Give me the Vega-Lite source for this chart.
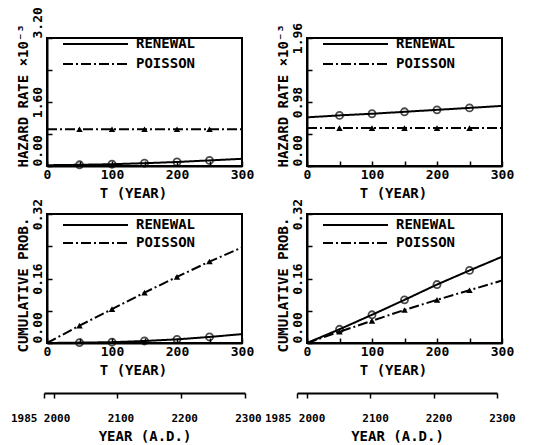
{
  "$schema": "https://vega.github.io/schema/vega-lite/v6.json",
  "background": "white",
  "padding": {"left": 10, "top": 5, "right": 5, "bottom": 2},
  "bounds": "flush",
  "columns": 2,
  "spacing": {"row": 48, "column": 65},
  "resolve": {"scale": {"strokeDash": "independent"}, "legend": {"strokeDash": "independent"}},
  "config": {
    "view": {"stroke": "black", "strokeWidth": 2},
    "axis": {
      "grid": false,
      "domainColor": "black", "domainWidth": 2,
      "tickColor": "black", "tickWidth": 1.5,
      "labelFont": "DejaVu Sans Mono", "labelFontWeight": "bold", "labelFontSize": 13, "labelColor": "black",
      "titleFont": "DejaVu Sans Mono", "titleFontWeight": "bold", "titleFontSize": 14, "titleColor": "black",
      "labelOverlap": false, "labelFlush": false
    },
    "legend": {
      "symbolType": "stroke", "symbolSize": 4225, "symbolStrokeWidth": 2, "symbolStrokeColor": "black",
      "labelFont": "DejaVu Sans Mono", "labelFontWeight": "bold", "labelFontSize": 14, "labelColor": "black",
      "rowPadding": 0, "labelOffset": 7, "padding": 0
    }
  },
  "datasets": {
    "tl": [
      {"s": "RENEWAL", "t": 0, "v": 0.02}, {"s": "RENEWAL", "t": 50, "v": 0.03}, {"s": "RENEWAL", "t": 100, "v": 0.045},
      {"s": "RENEWAL", "t": 150, "v": 0.07}, {"s": "RENEWAL", "t": 200, "v": 0.1}, {"s": "RENEWAL", "t": 250, "v": 0.14},
      {"s": "RENEWAL", "t": 300, "v": 0.18},
      {"s": "POISSON", "t": 0, "v": 0.92}, {"s": "POISSON", "t": 50, "v": 0.92}, {"s": "POISSON", "t": 100, "v": 0.92},
      {"s": "POISSON", "t": 150, "v": 0.92}, {"s": "POISSON", "t": 200, "v": 0.92}, {"s": "POISSON", "t": 250, "v": 0.92},
      {"s": "POISSON", "t": 300, "v": 0.92}
    ],
    "tr": [
      {"s": "RENEWAL", "t": 0, "v": 0.745}, {"s": "RENEWAL", "t": 50, "v": 0.775}, {"s": "RENEWAL", "t": 100, "v": 0.8},
      {"s": "RENEWAL", "t": 150, "v": 0.83}, {"s": "RENEWAL", "t": 200, "v": 0.86}, {"s": "RENEWAL", "t": 250, "v": 0.89},
      {"s": "RENEWAL", "t": 300, "v": 0.92},
      {"s": "POISSON", "t": 0, "v": 0.58}, {"s": "POISSON", "t": 50, "v": 0.58}, {"s": "POISSON", "t": 100, "v": 0.58},
      {"s": "POISSON", "t": 150, "v": 0.58}, {"s": "POISSON", "t": 200, "v": 0.58}, {"s": "POISSON", "t": 250, "v": 0.58},
      {"s": "POISSON", "t": 300, "v": 0.58}
    ],
    "bl": [
      {"s": "RENEWAL", "t": 0, "v": 0}, {"s": "RENEWAL", "t": 50, "v": 0.001}, {"s": "RENEWAL", "t": 100, "v": 0.002},
      {"s": "RENEWAL", "t": 150, "v": 0.005}, {"s": "RENEWAL", "t": 200, "v": 0.009}, {"s": "RENEWAL", "t": 250, "v": 0.015},
      {"s": "RENEWAL", "t": 300, "v": 0.022},
      {"s": "POISSON", "t": 0, "v": 0}, {"s": "POISSON", "t": 50, "v": 0.043}, {"s": "POISSON", "t": 100, "v": 0.084},
      {"s": "POISSON", "t": 150, "v": 0.125}, {"s": "POISSON", "t": 200, "v": 0.164}, {"s": "POISSON", "t": 250, "v": 0.202},
      {"s": "POISSON", "t": 300, "v": 0.237}
    ],
    "br": [
      {"s": "RENEWAL", "t": 0, "v": 0}, {"s": "RENEWAL", "t": 50, "v": 0.034}, {"s": "RENEWAL", "t": 100, "v": 0.07},
      {"s": "RENEWAL", "t": 150, "v": 0.107}, {"s": "RENEWAL", "t": 200, "v": 0.145}, {"s": "RENEWAL", "t": 250, "v": 0.18},
      {"s": "RENEWAL", "t": 300, "v": 0.214},
      {"s": "POISSON", "t": 0, "v": 0}, {"s": "POISSON", "t": 50, "v": 0.028}, {"s": "POISSON", "t": 100, "v": 0.055},
      {"s": "POISSON", "t": 150, "v": 0.082}, {"s": "POISSON", "t": 200, "v": 0.107}, {"s": "POISSON", "t": 250, "v": 0.131},
      {"s": "POISSON", "t": 300, "v": 0.155}
    ],
    "years": [{"year": 1985}, {"year": 2000}, {"year": 2100}, {"year": 2200}, {"year": 2300}]
  },
  "concat": [
    {
      "width": 195, "height": 128,
      "data": {"name": "tl"},
      "encoding": {
        "x": {"field": "t", "type": "quantitative", "scale": {"domain": [0, 300], "nice": false},
          "axis": {"values": [0, 50, 100, 150, 200, 250, 300], "labelExpr": "datum.value % 100 == 0 ? datum.label : ''",
            "tickSize": -5, "labelPadding": 7, "title": "T  (YEAR)", "titleX": 86, "titleY": 31, "titleBaseline": "alphabetic", "titleAlign": "center"}},
        "y": {"field": "v", "type": "quantitative", "scale": {"domain": [0, 3.2], "nice": false},
          "axis": {"values": [0, 0.8, 1.6, 2.4, 3.2], "labelExpr": "round(datum.index*4) % 2 == 1 ? '' : format(datum.value, '.2f')",
            "tickSize": -5, "labelPadding": 11, "labelAngle": -90, "labelBaseline": "alphabetic",
            "labelAlign": {"condition": {"test": "datum.index == 0 || datum.index == 1", "value": "left"}, "value": "center"},
            "title": "HAZARD RATE   ×10⁻³", "titleAngle": 270, "titleAlign": "left", "titleBaseline": "alphabetic", "titleX": -20, "titleY": 129}}
      },
      "layer": [
        {"mark": {"type": "line", "color": "black", "strokeWidth": 2},
          "encoding": {"strokeDash": {"field": "s", "type": "nominal", "scale": {"domain": ["RENEWAL", "POISSON"], "range": [[1, 0], [10, 3, 2, 3]]},
            "legend": {"orient": "none", "legendX": 15, "legendY": -4, "clipHeight": 20, "title": null}}}},
        {"transform": [{"filter": "datum.s == 'RENEWAL' && datum.t > 0 && datum.t < 300"}],
          "mark": {"type": "point", "shape": "circle", "filled": false, "color": "black", "strokeWidth": 1.8, "size": 50}},
        {"transform": [{"filter": "datum.s == 'POISSON' && datum.t > 0 && datum.t < 300"}],
          "mark": {"type": "point", "shape": "triangle-up", "filled": true, "color": "black", "opacity": 1, "size": 42}}
      ]
    },
    {
      "width": 195, "height": 128,
      "data": {"name": "tr"},
      "encoding": {
        "x": {"field": "t", "type": "quantitative", "scale": {"domain": [0, 300], "nice": false},
          "axis": {"values": [0, 50, 100, 150, 200, 250, 300], "labelExpr": "datum.value % 100 == 0 ? datum.label : ''",
            "tickSize": -5, "labelPadding": 7, "title": "T  (YEAR)", "titleX": 86, "titleY": 31, "titleBaseline": "alphabetic", "titleAlign": "center"}},
        "y": {"field": "v", "type": "quantitative", "scale": {"domain": [0, 1.96], "nice": false},
          "axis": {"values": [0, 0.49, 0.98, 1.47, 1.96], "labelExpr": "round(datum.index*4) % 2 == 1 ? '' : format(datum.value, '.2f')",
            "tickSize": -5, "labelPadding": 11, "labelAngle": -90, "labelBaseline": "alphabetic",
            "labelAlign": {"condition": {"test": "datum.index == 0", "value": "left"}, "value": "center"},
            "title": "HAZARD RATE   ×10⁻³", "titleAngle": 270, "titleAlign": "left", "titleBaseline": "alphabetic", "titleX": -20, "titleY": 129}}
      },
      "layer": [
        {"mark": {"type": "line", "color": "black", "strokeWidth": 2},
          "encoding": {"strokeDash": {"field": "s", "type": "nominal", "scale": {"domain": ["RENEWAL", "POISSON"], "range": [[1, 0], [10, 3, 2, 3]]},
            "legend": {"orient": "none", "legendX": 15, "legendY": -4, "clipHeight": 20, "title": null}}}},
        {"transform": [{"filter": "datum.s == 'RENEWAL' && datum.t > 0 && datum.t < 300"}],
          "mark": {"type": "point", "shape": "circle", "filled": false, "color": "black", "strokeWidth": 1.8, "size": 50}},
        {"transform": [{"filter": "datum.s == 'POISSON' && datum.t > 0 && datum.t < 300"}],
          "mark": {"type": "point", "shape": "triangle-up", "filled": true, "color": "black", "opacity": 1, "size": 42}}
      ]
    },
    {
      "width": 195, "height": 129,
      "data": {"name": "bl"},
      "encoding": {
        "x": {"field": "t", "type": "quantitative", "scale": {"domain": [0, 300], "nice": false},
          "axis": {"values": [0, 50, 100, 150, 200, 250, 300], "labelExpr": "datum.value % 100 == 0 ? datum.label : ''",
            "tickSize": -5, "labelPadding": 7, "title": "T  (YEAR)", "titleX": 86, "titleY": 31, "titleBaseline": "alphabetic", "titleAlign": "center"}},
        "y": {"field": "v", "type": "quantitative", "scale": {"domain": [0, 0.32], "nice": false},
          "axis": {"values": [0, 0.08, 0.16, 0.24, 0.32], "labelExpr": "round(datum.index*4) % 2 == 1 ? '' : format(datum.value, '.2f')",
            "tickSize": -5, "labelPadding": 11, "labelAngle": -90, "labelBaseline": "alphabetic",
            "labelAlign": {"condition": {"test": "datum.index == 0", "value": "left"}, "value": "center"},
            "title": "CUMULATIVE PROB.", "titleAngle": 270, "titleAlign": "left", "titleBaseline": "alphabetic", "titleX": -20, "titleY": 138}}
      },
      "layer": [
        {"mark": {"type": "line", "color": "black", "strokeWidth": 2},
          "encoding": {"strokeDash": {"field": "s", "type": "nominal", "scale": {"domain": ["RENEWAL", "POISSON"], "range": [[1, 0], [10, 3, 2, 3]]},
            "legend": {"orient": "none", "legendX": 15, "legendY": 2, "clipHeight": 18, "title": null}}}},
        {"transform": [{"filter": "datum.s == 'RENEWAL' && datum.t > 0 && datum.t < 300"}],
          "mark": {"type": "point", "shape": "circle", "filled": false, "color": "black", "strokeWidth": 1.8, "size": 50}},
        {"transform": [{"filter": "datum.s == 'POISSON' && datum.t > 0 && datum.t < 300"}],
          "mark": {"type": "point", "shape": "triangle-up", "filled": true, "color": "black", "opacity": 1, "size": 42}}
      ]
    },
    {
      "width": 195, "height": 129,
      "data": {"name": "br"},
      "encoding": {
        "x": {"field": "t", "type": "quantitative", "scale": {"domain": [0, 300], "nice": false},
          "axis": {"values": [0, 50, 100, 150, 200, 250, 300], "labelExpr": "datum.value % 100 == 0 ? datum.label : ''",
            "tickSize": -5, "labelPadding": 7, "title": "T  (YEAR)", "titleX": 86, "titleY": 31, "titleBaseline": "alphabetic", "titleAlign": "center"}},
        "y": {"field": "v", "type": "quantitative", "scale": {"domain": [0, 0.32], "nice": false},
          "axis": {"values": [0, 0.08, 0.16, 0.24, 0.32], "labelExpr": "round(datum.index*4) % 2 == 1 ? '' : format(datum.value, '.2f')",
            "tickSize": -5, "labelPadding": 11, "labelAngle": -90, "labelBaseline": "alphabetic",
            "labelAlign": {"condition": {"test": "datum.index == 0", "value": "left"}, "value": "center"},
            "title": "CUMULATIVE PROB.", "titleAngle": 270, "titleAlign": "left", "titleBaseline": "alphabetic", "titleX": -20, "titleY": 138}}
      },
      "layer": [
        {"mark": {"type": "line", "color": "black", "strokeWidth": 2},
          "encoding": {"strokeDash": {"field": "s", "type": "nominal", "scale": {"domain": ["RENEWAL", "POISSON"], "range": [[1, 0], [10, 3, 2, 3]]},
            "legend": {"orient": "none", "legendX": 15, "legendY": 2, "clipHeight": 18, "title": null}}}},
        {"transform": [{"filter": "datum.s == 'RENEWAL' && datum.t > 0 && datum.t < 300"}],
          "mark": {"type": "point", "shape": "circle", "filled": false, "color": "black", "strokeWidth": 1.8, "size": 50}},
        {"transform": [{"filter": "datum.s == 'POISSON' && datum.t > 0 && datum.t < 300"}],
          "mark": {"type": "point", "shape": "triangle-up", "filled": true, "color": "black", "opacity": 1, "size": 42}}
      ]
    },
    {
      "width": 195, "height": 2,
      "view": {"stroke": null},
      "data": {"name": "years"},
      "mark": {"type": "point", "opacity": 0},
      "encoding": {
        "x": {"field": "year", "type": "quantitative", "scale": {"domain": [1985, 2300], "range": [-3, 198], "nice": false, "zero": false},
          "axis": {"values": [1985, 2000, 2100, 2200, 2300], "format": "d", "tickSize": 5, "labelPadding": 14, "labelFontSize": 11,
            "labelAlign": {"condition": {"test": "datum.value == 1985", "value": "right"}, "value": "center"},
            "labelOffset": {"condition": {"test": "datum.value == 1985", "value": -7}, "value": 3},
            "title": "YEAR  (A.D.)", "titleY": 47, "titleBaseline": "alphabetic"}}
      }
    },
    {
      "width": 195, "height": 2,
      "view": {"stroke": null},
      "data": {"name": "years"},
      "mark": {"type": "point", "opacity": 0},
      "encoding": {
        "x": {"field": "year", "type": "quantitative", "scale": {"domain": [1985, 2300], "range": [-10, 190], "nice": false, "zero": false},
          "axis": {"values": [1985, 2000, 2100, 2200, 2300], "format": "d", "tickSize": 5, "labelPadding": 14, "labelFontSize": 11,
            "labelAlign": {"condition": {"test": "datum.value == 1985", "value": "right"}, "value": "center"},
            "labelOffset": {"condition": {"test": "datum.value == 1985", "value": -6}, "value": 5},
            "title": "YEAR  (A.D.)", "titleY": 47, "titleBaseline": "alphabetic"}}
      }
    }
  ]
}
